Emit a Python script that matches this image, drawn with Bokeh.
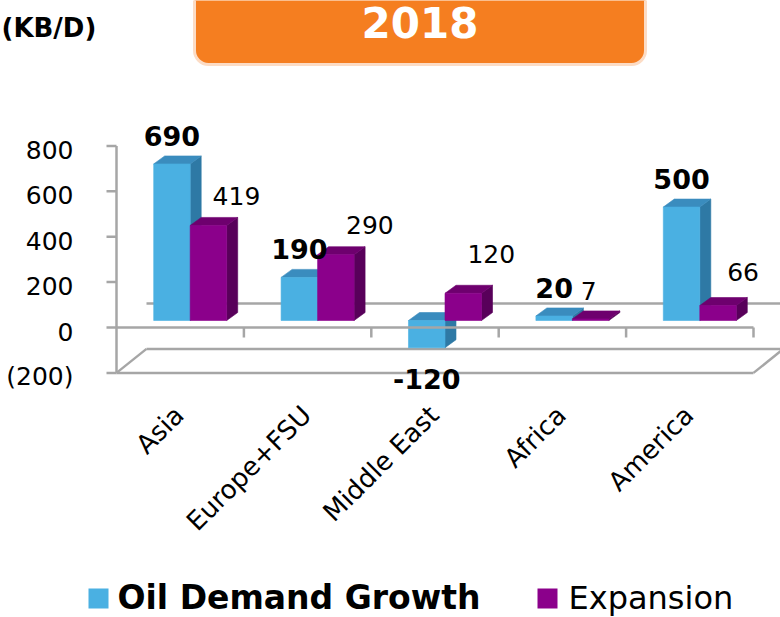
import numpy as np
from bokeh.plotting import figure
from bokeh.models import ColumnDataSource, Range1d
from bokeh.core.properties import value
from bokeh.embed import file_html
from bokeh.resources import INLINE

# ---------------- data ----------------
categories = ["Asia", "Europe+FSU", "Middle East", "Africa", "America"]
oil_demand_growth = [690, 190, -120, 20, 500]
expansion = [419, 290, 120, 7, 66]
y_ticks = [800, 600, 400, 200, 0, -200]
y_tick_labels = ["800", "600", "400", "200", "0", "(200)"]
series_names = ["Oil Demand Growth", "Expansion"]
unit_label = "(KB/D)"
year_label = "2018"

# ---------------- layout / style ----------------
W, H = 780, 617
PAGE = 0                 # canvas origin in picture
X0 = 116                 # px of category axis start
CAT_PX = 127.4           # px per category
Y0 = 327                 # px of value 0 (front plane)
UNIT_PX = 0.2269         # px per value unit

def dx(px):
    return px / CAT_PX

def dv(px):
    return px / UNIT_PX

def X(page_x):
    return (page_x - X0) / CAT_PX

def V(page_y):
    return (Y0 - page_y) / UNIT_PX

BACK = (30, 24)          # back wall depth offset (px)
BAR_OFF = (10, 7)        # bar front plane offset (px)
DEPTH = (11, 8)          # bar depth (px)
BAR_W = 0.2865           # bar width as fraction of category

FONT = value("DejaVu Sans")
AX_COL = "#A6A6A6"
BLUE = ("#4AB0E2", "#3A8CBE", "#2E79A5")      # front, top, side
PURPLE = ("#8B008B", "#6E006E", "#58005A")

p = figure(width=W, height=H, x_range=Range1d(X(PAGE), X(PAGE + W)),
           y_range=Range1d(V(PAGE + H), V(PAGE)),
           x_axis_type=None, y_axis_type=None, min_border=0,
           toolbar_location=None, output_backend="svg",
           outline_line_color=None, background_fill_color="white")

n = len(categories)
ymin, ymax = min(y_ticks), max(y_ticks)
bx, bv = dx(BACK[0]), dv(BACK[1])

# ---------------- floor & back wall ----------------
floor_xs = [[0, n], [bx, n + bx], [0, bx], [n, n + bx], [bx, n + bx]]
floor_ys = [[ymin, ymin], [ymin + bv, ymin + bv], [ymin, ymin + bv],
            [ymin, ymin + bv], [bv, bv]]
p.multi_line(floor_xs, floor_ys, line_color=AX_COL, line_width=2.5)

# ---------------- bars ----------------
xs, ys, cols = [], [], []
ox, ov = dx(BAR_OFF[0]), dv(BAR_OFF[1])
ddx, ddv = dx(DEPTH[0]), dv(DEPTH[1])
for i in range(n):
    for s, (vals, pal) in enumerate([(oil_demand_growth, BLUE), (expansion, PURPLE)]):
        val = vals[i]
        left = i + (1 - 2 * BAR_W) / 2 + s * BAR_W + ox
        right = left + BAR_W
        lo, hi = min(0, val) + ov, max(0, val) + ov
        # side
        xs.append([right, right + ddx, right + ddx, right])
        ys.append([lo, lo + ddv, hi + ddv, hi])
        cols.append(pal[2])
        # top
        xs.append([left, left + ddx, right + ddx, right])
        ys.append([hi, hi + ddv, hi + ddv, hi])
        cols.append(pal[1])
        # front
        xs.append([left, right, right, left])
        ys.append([lo, lo, hi, hi])
        cols.append(pal[0])
bars = ColumnDataSource(dict(xs=xs, ys=ys, c=cols))
p.patches("xs", "ys", source=bars, fill_color="c", line_color="c", line_width=0.6)

# ---------------- axes ----------------
ax_xs = [[0, n]] + [[k, k] for k in range(1, n + 1)]
ax_ys = [[0, 0]] + [[0, -dv(10)] for k in range(1, n + 1)]
ax_xs += [[0, 0]] + [[-dx(10), 0] for t in y_ticks]
ax_ys += [[ymin, ymax]] + [[t, t] for t in y_ticks]
p.multi_line(ax_xs, ax_ys, line_color=AX_COL, line_width=2.5)

p.text(x=[X(73)] * len(y_ticks), y=[t - dv(4) for t in y_ticks], text=y_tick_labels,
       text_font=FONT, text_font_size="25px", text_align="right",
       text_baseline="middle", text_color="black")

# category labels
p.text(x=[i + 0.5 - dx(1) for i in range(n)], y=[V(410)] * n, text=categories,
       angle=np.pi / 4, text_font=FONT, text_font_size="26px",
       text_align="right", text_baseline="middle", text_color="black")

# ---------------- data labels ----------------
blue_cx = [i + (1 - 2 * BAR_W) / 2 + BAR_W / 2 + ox for i in range(n)]
blue_ly = [(v + ov + dv(28)) if v >= 0 else (v + ov - dv(31)) for v in oil_demand_growth]
p.text(x=blue_cx, y=blue_ly, text=[str(v) for v in oil_demand_growth],
       text_font=FONT, text_font_style="bold", text_font_size="27px",
       text_align="center", text_baseline="middle", text_color="black")

EXP_LABEL_SHIFT = [(28, 29), (34, 30), (28, 39), (-2, 28), (25, 34)]  # px
purp_cx = [i + (1 - 2 * BAR_W) / 2 + 1.5 * BAR_W + ox for i in range(n)]
p.text(x=[c + dx(sh[0]) for c, sh in zip(purp_cx, EXP_LABEL_SHIFT)],
       y=[max(0, v) + ov + dv(sh[1]) for v, sh in zip(expansion, EXP_LABEL_SHIFT)],
       text=[str(v) for v in expansion],
       text_font=FONT, text_font_size="25px",
       text_align="center", text_baseline="middle", text_color="black")

# ---------------- header ----------------
p.quad(left=[X(194)], right=[X(645)], bottom=[V(64)], top=[V(-40)],
       fill_color="#F57E20", line_color="#FCDCC5", line_width=3, border_radius=14)
p.text(x=[X(419.5)], y=[V(22)], text=[year_label], text_font=FONT,
       text_font_style="bold", text_font_size="42px", text_align="center",
       text_baseline="middle", text_color="white")
p.text(x=[X(1)], y=[V(27)], text=[unit_label], text_font=FONT,
       text_font_style="bold", text_font_size="26px", text_align="left",
       text_baseline="middle", text_color="black")

# ---------------- legend ----------------
p.quad(left=[X(88), X(537)], right=[X(108), X(557)], bottom=[V(608), V(608)],
       top=[V(588), V(588)], fill_color=[BLUE[0], PURPLE[0]], line_color=None)
p.text(x=[X(117)], y=[V(597)], text=[series_names[0]], text_font=FONT,
       text_font_style="bold", text_font_size="33px", text_align="left",
       text_baseline="middle", text_color="black")
p.text(x=[X(568)], y=[V(597)], text=[series_names[1]], text_font=FONT,
       text_font_size="32px", text_align="left",
       text_baseline="middle", text_color="black")

open("out.html", "w").write(file_html(p, INLINE))
